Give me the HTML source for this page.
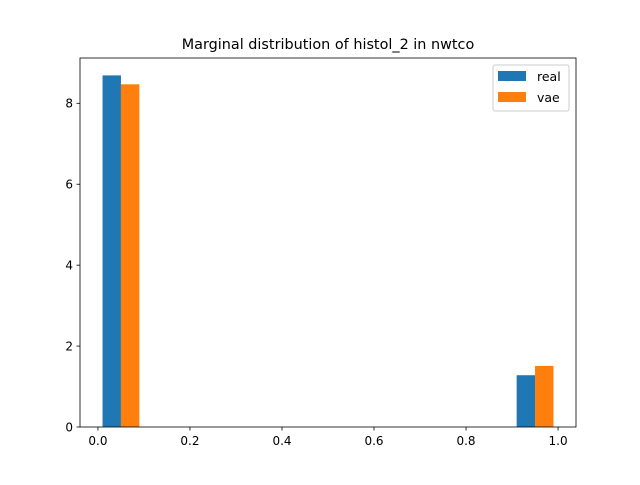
<!DOCTYPE html>
<html><head><meta charset="utf-8"><style>
body{margin:0;background:#fff;}
svg text{font-family:"DejaVu Sans","Liberation Sans",sans-serif;}
</style></head><body>
<svg id="chart" width="640" height="480" xmlns="http://www.w3.org/2000/svg">
<rect width="640" height="480" fill="#fff"/>
<text x="328" y="49" font-size="14.4" text-anchor="middle">Marginal distribution of histol_2 in nwtco</text>
<g id="bars"></g>
<g id="axes"></g>
<g>
<rect x="493" y="65" width="76" height="46" fill="#fff" stroke="#ccc" rx="2"/>
<rect x="498" y="71" width="28" height="10" fill="#1f77b4"/>
<text x="537" y="81" font-size="12.5">real</text>
<rect x="498" y="92" width="28" height="10" fill="#ff7f0e"/>
<text x="537" y="102" font-size="12.5">vae</text>
</g>
</svg>
<script>
const binStarts=[0.0,0.9];
const realValues=[8.69,1.28];
const vaeValues=[8.47,1.51];
const xTicks=[0.0,0.2,0.4,0.6,0.8,1.0];
const xTickLabels=["0.0","0.2","0.4","0.6","0.8","1.0"];
const yTicks=[0,2,4,6,8];
const yTickLabels=["0","2","4","6","8"];

const L=80,R=576,T=58,B=427;
const xMin=-0.039,xMax=1.039,yMin=0,yMax=9.12;
const xs=v=>L+(v-xMin)/(xMax-xMin)*(R-L);
const ys=v=>B-(v-yMin)/(yMax-yMin)*(B-T);
const NS="http://www.w3.org/2000/svg";
const bars=document.getElementById('bars');
const axes=document.getElementById('axes');
function mk(tag,attrs,parent){const e=document.createElementNS(NS,tag);for(const k in attrs)e.setAttribute(k,attrs[k]);parent.appendChild(e);return e;}
const off=0.01,dw=0.04;
binStarts.forEach((b,i)=>{
  const r=mk('rect',{x:xs(b+off),y:ys(realValues[i]),width:xs(b+off+dw)-xs(b+off),height:ys(0)-ys(realValues[i]),fill:'#1f77b4'},bars);
  
  
  const v=mk('rect',{x:xs(b+off+dw),y:ys(vaeValues[i]),width:xs(b+off+2*dw)-xs(b+off+dw),height:ys(0)-ys(vaeValues[i]),fill:'#ff7f0e'},bars);
  
  
});
const frame=mk('rect',{x:L,y:T,width:R-L,height:B-T,fill:'none',stroke:'#000','stroke-width':0.8},axes);


xTicks.forEach((t,i)=>{
  const x=xs(t);
  mk('line',{x1:x,x2:x,y1:B,y2:B+3.5,stroke:'#000','stroke-width':0.8},axes);
  const tx=mk('text',{x:x,y:B+18,'font-size':12,'text-anchor':'middle'},axes);
  tx.textContent=xTickLabels[i];
  
  
});
yTicks.forEach((t,i)=>{
  const y=ys(t);
  mk('line',{x1:L-3.5,x2:L,y1:y,y2:y,stroke:'#000','stroke-width':0.8},axes);
  const tx=mk('text',{x:L-7,y:y+4.3,'font-size':12,'text-anchor':'end'},axes);
  tx.textContent=yTickLabels[i];
  
  
});
</script>
</body></html>
